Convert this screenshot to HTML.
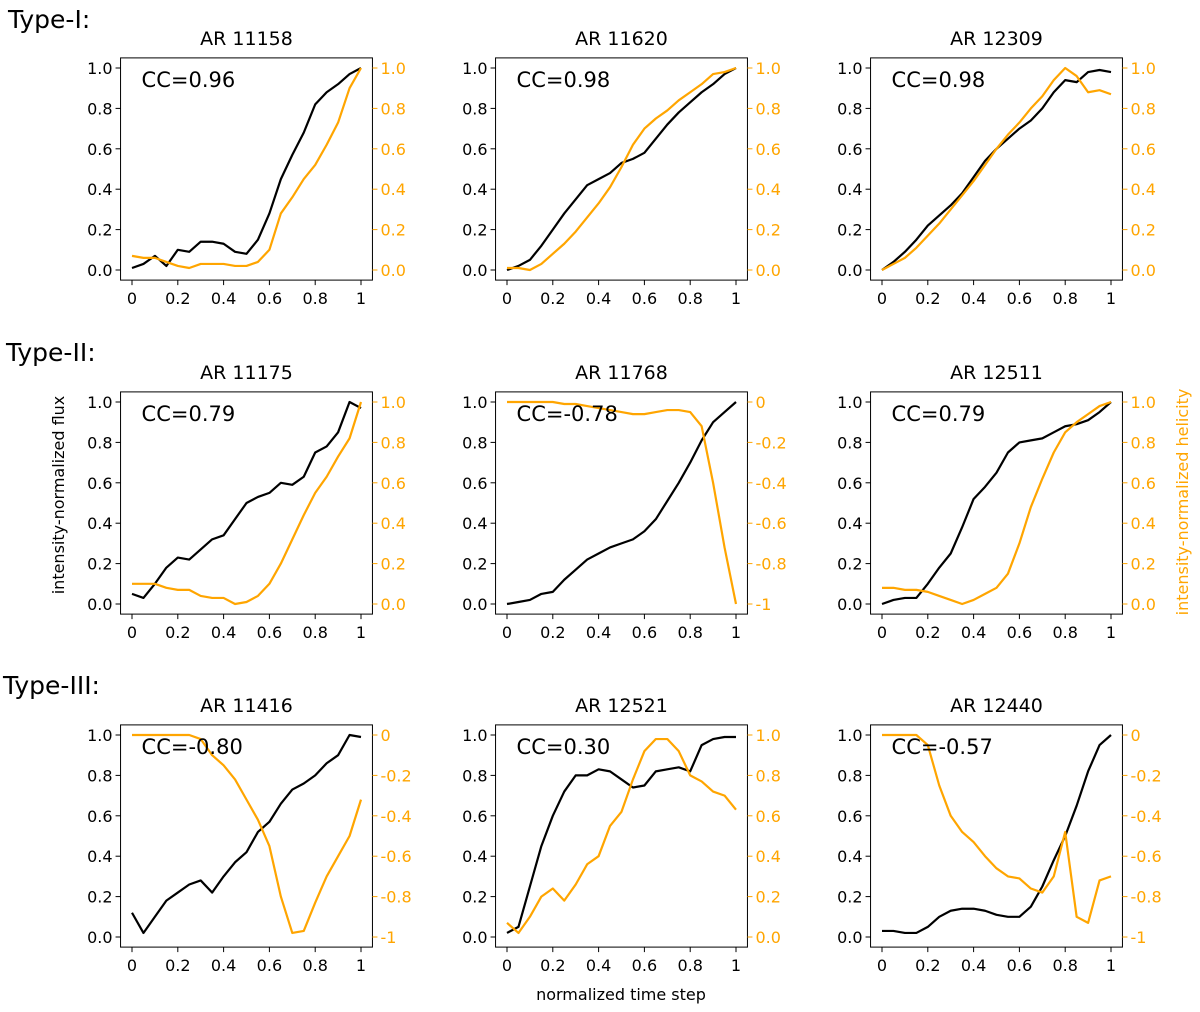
<!DOCTYPE html>
<html><head><meta charset="utf-8"><style>
body{margin:0;background:#fff;}
svg{display:block;font-family:"DejaVu Sans","Liberation Sans",sans-serif;}
</style></head><body>
<svg id="fig" width="1200" height="1012" viewBox="0 0 1200 1012">
<text x="8" y="28" font-size="25">Type-I:</text>
<text x="6" y="361" font-size="25">Type-II:</text>
<text x="3" y="694" font-size="25">Type-III:</text>
<text transform="translate(64,495) rotate(-90)" text-anchor="middle" font-size="16">intensity-normalized flux</text>
<text transform="translate(1188,502) rotate(-90)" text-anchor="middle" font-size="16" fill="#ffa500">intensity-normalized helicity</text>
<text x="621" y="1000" text-anchor="middle" font-size="16">normalized time step</text>
</svg>
<script>
const titles=["AR 11158","AR 11620","AR 12309","AR 11175","AR 11768","AR 12511","AR 11416","AR 12521","AR 12440"];
const ccLabels=["CC=0.96","CC=0.98","CC=0.98","CC=0.79","CC=-0.78","CC=0.79","CC=-0.80","CC=0.30","CC=-0.57"];
const negHel=[false,false,false,false,true,false,true,false,true];
const timeSteps=[0,0.05,0.1,0.15,0.2,0.25,0.3,0.35,0.4,0.45,0.5,0.55,0.6,0.65,0.7,0.75,0.8,0.85,0.9,0.95,1];
const xTickLabels=["0","0.2","0.4","0.6","0.8","1"];
const leftTickLabels=["0.0","0.2","0.4","0.6","0.8","1.0"];
const rightPosTickLabels=["0.0","0.2","0.4","0.6","0.8","1.0"];
const rightNegTickLabels=["-1","-0.8","-0.6","-0.4","-0.2","0"];
const flux1=[0.01,0.03,0.07,0.02,0.10,0.09,0.14,0.14,0.13,0.09,0.08,0.15,0.28,0.45,0.57,0.68,0.82,0.88,0.92,0.97,1.0];
const hel1=[0.07,0.06,0.06,0.04,0.02,0.01,0.03,0.03,0.03,0.02,0.02,0.04,0.10,0.28,0.36,0.45,0.52,0.62,0.73,0.9,1.0];
const flux2=[0.0,0.02,0.05,0.12,0.20,0.28,0.35,0.42,0.45,0.48,0.53,0.55,0.58,0.65,0.72,0.78,0.83,0.88,0.92,0.97,1.0];
const hel2=[0.01,0.01,0.0,0.03,0.08,0.13,0.19,0.26,0.33,0.41,0.51,0.62,0.70,0.75,0.79,0.84,0.88,0.92,0.97,0.98,1.0];
const flux3=[0.0,0.04,0.09,0.15,0.22,0.27,0.32,0.38,0.46,0.54,0.60,0.65,0.70,0.74,0.80,0.88,0.94,0.93,0.98,0.99,0.98];
const hel3=[0.0,0.03,0.06,0.11,0.17,0.23,0.30,0.37,0.44,0.52,0.60,0.67,0.73,0.80,0.86,0.94,1.0,0.96,0.88,0.89,0.87];
const flux4=[0.05,0.03,0.10,0.18,0.23,0.22,0.27,0.32,0.34,0.42,0.50,0.53,0.55,0.60,0.59,0.63,0.75,0.78,0.85,1.0,0.97];
const hel4=[0.10,0.10,0.10,0.08,0.07,0.07,0.04,0.03,0.03,0.0,0.01,0.04,0.10,0.20,0.32,0.44,0.55,0.63,0.73,0.82,1.0];
const flux5=[0.0,0.01,0.02,0.05,0.06,0.12,0.17,0.22,0.25,0.28,0.30,0.32,0.36,0.42,0.51,0.60,0.70,0.81,0.90,0.95,1.0];
const hel5=[0,0,0,0,0,-0.01,-0.01,-0.02,-0.03,-0.04,-0.05,-0.06,-0.06,-0.05,-0.04,-0.04,-0.05,-0.12,-0.4,-0.72,-1.0];
const flux6=[0.0,0.02,0.03,0.03,0.10,0.18,0.25,0.38,0.52,0.58,0.65,0.75,0.80,0.81,0.82,0.85,0.88,0.89,0.91,0.95,1.0];
const hel6=[0.08,0.08,0.07,0.07,0.06,0.04,0.02,0.0,0.02,0.05,0.08,0.15,0.30,0.48,0.62,0.75,0.85,0.90,0.94,0.98,1.0];
const flux7=[0.12,0.02,0.10,0.18,0.22,0.26,0.28,0.22,0.30,0.37,0.42,0.52,0.57,0.66,0.73,0.76,0.80,0.86,0.90,1.0,0.99];
const hel7=[0,0,0,0,0,0,-0.02,-0.1,-0.15,-0.22,-0.32,-0.42,-0.55,-0.80,-0.98,-0.97,-0.83,-0.70,-0.6,-0.5,-0.32];
const flux8=[0.02,0.05,0.25,0.45,0.60,0.72,0.80,0.80,0.83,0.82,0.78,0.74,0.75,0.82,0.83,0.84,0.82,0.95,0.98,0.99,0.99];
const hel8=[0.07,0.02,0.10,0.20,0.24,0.18,0.26,0.36,0.40,0.55,0.62,0.78,0.92,0.98,0.98,0.92,0.80,0.77,0.72,0.70,0.63];
const flux9=[0.03,0.03,0.02,0.02,0.05,0.10,0.13,0.14,0.14,0.13,0.11,0.10,0.10,0.15,0.25,0.38,0.50,0.65,0.82,0.95,1.0];
const hel9=[0,0,0,0,-0.05,-0.25,-0.4,-0.48,-0.53,-0.60,-0.66,-0.70,-0.71,-0.76,-0.78,-0.70,-0.48,-0.90,-0.93,-0.72,-0.70];
const fluxes=[flux1,flux2,flux3,flux4,flux5,flux6,flux7,flux8,flux9];
const hels=[hel1,hel2,hel3,hel4,hel5,hel6,hel7,hel8,hel9];

const NS="http://www.w3.org/2000/svg";
const svg=document.getElementById('fig');
const colX0=[132,507,882], rowY0=[270,604,937];
const UX=229, UY=202, OR="#ffa500";
function mk(tag,attrs,parent){const e=document.createElementNS(NS,tag);for(const k in attrs)e.setAttribute(k,attrs[k]);(parent||svg).appendChild(e);return e;}
for(let p=0;p<9;p++){
  const x0=colX0[p%3], y0=rowY0[Math.floor(p/3)];
  const sx=v=>x0+v*UX, sy=v=>y0-v*UY;
  const g=mk('g',{});
  
  
  const L=sx(-0.05),R=sx(1.05),T=sy(1.05),B=sy(-0.05);
  const t=mk('text',{x:(L+R)/2,y:T-13,'text-anchor':'middle','font-size':19},g);t.textContent=titles[p];
  
  
  // series
  const hv=hels[p].map(h=>negHel[p]?1+h:h);
  const fp=mk('polyline',{points:timeSteps.map((x,i)=>sx(x)+','+sy(fluxes[p][i])).join(' '),fill:'none',stroke:'#000','stroke-width':2.2,'stroke-linejoin':'round'},g);
  
  
  const hp=mk('polyline',{points:timeSteps.map((x,i)=>sx(x)+','+sy(hv[i])).join(' '),fill:'none',stroke:OR,'stroke-width':2.2,'stroke-linejoin':'round'},g);
  
  
  const fr=mk('rect',{x:L,y:T,width:R-L,height:B-T,fill:'none',stroke:'#000','stroke-width':1},g);
  
  
  const cc=mk('text',{x:L+21,y:T+29,'font-size':21},g);cc.textContent=ccLabels[p];
  
  
  xTickLabels.forEach((lab,i)=>{const v=i*0.2;mk('line',{x1:sx(v),x2:sx(v),y1:B,y2:B+5,stroke:'#000'},g);
    const tx=mk('text',{x:sx(v),y:B+24,'text-anchor':'middle','font-size':16},g);tx.textContent=lab;
    
    });
  leftTickLabels.forEach((lab,i)=>{const v=i*0.2;mk('line',{x1:L-5,x2:L,y1:sy(v),y2:sy(v),stroke:'#000'},g);
    const tx=mk('text',{x:L-8,y:sy(v)+6,'text-anchor':'end','font-size':16},g);tx.textContent=lab;
    
    });
  const rl=negHel[p]?rightNegTickLabels:rightPosTickLabels;
  rl.forEach((lab,i)=>{const v=i*0.2;mk('line',{x1:R,x2:R+5,y1:sy(v),y2:sy(v),stroke:OR},g);
    const tx=mk('text',{x:R+8,y:sy(v)+6,'font-size':16,fill:OR},g);tx.textContent=lab;
    
    });
}
</script>
</body></html>
